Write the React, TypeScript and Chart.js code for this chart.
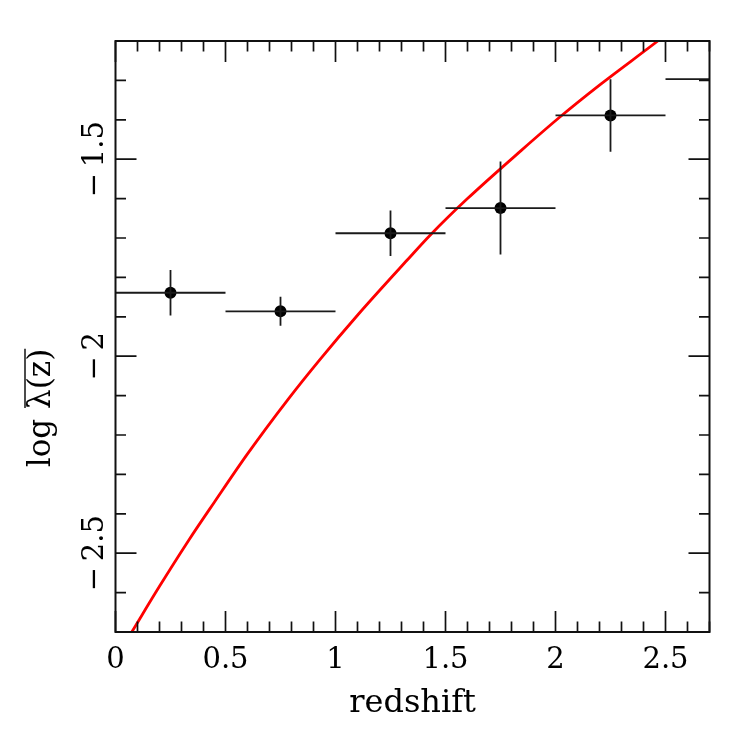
import React, { useEffect, useRef } from "react";
import { Chart, registerables } from "chart.js";

Chart.register(...registerables);

// Binned measurements
const binCenters = [0.25, 0.75, 1.25, 1.75, 2.25, 2.75];
const binHalfWidths = [0.25, 0.25, 0.25, 0.25, 0.25, 0.25];
const logLambda = [-1.839, -1.886, -1.688, -1.624, -1.389, -1.297];
const logLambdaErr = [0.058, 0.037, 0.058, 0.118, 0.092, 0.06];

// Model curve
const curveZ = [0.074, 0.2, 0.333, 0.45, 0.6, 0.781, 0.93, 1.1, 1.326, 1.43, 1.6, 1.846, 2.02, 2.2, 2.465, 2.52];
const curveLogLambda = [-2.7, -2.584, -2.467, -2.37, -2.248, -2.112, -2.008, -1.896, -1.756, -1.693, -1.6, -1.477, -1.393, -1.312, -1.2, -1.176];

// Axis ranges and labelled ticks
const xRange = [0, 2.7];
const yRange = [-2.7, -1.2];
const xMajorLabels = ["0", "0.5", "1", "1.5", "2", "2.5"];
const yMajorLabels = ["−\u20092.5", "−\u20092", "−\u20091.5"];

const FONT = "'DejaVu Serif', serif";

const isMajor = (v: number) => Math.abs(v * 2 - Math.round(v * 2)) < 1e-6;
const fmtX = (v: number) => {
  const s = String(Math.round(v * 2) / 2);
  return xMajorLabels.includes(s) ? s : "";
};
const fmtY = (v: number) => {
  const r = Math.round(v * 2) / 2;
  const s = (r < 0 ? "−\u2009" : "") + String(Math.abs(r));
  return yMajorLabels.includes(s) ? s : "";
};

const framePlugin = {
  id: "frameTicks",
  afterDatasetsDraw(chart: any) {
    const { ctx, chartArea: a, scales } = chart;
    const xs = scales.x;
    const ys = scales.y;
    ctx.save();
    ctx.beginPath();
    ctx.rect(a.left, a.top, a.right - a.left, a.bottom - a.top);
    ctx.clip();
    ctx.strokeStyle = "#1a1a1a";
    ctx.lineWidth = 1.8;
    for (let i = 0; i < binCenters.length; i++) {
      const px = xs.getPixelForValue(binCenters[i]);
      const py = ys.getPixelForValue(logLambda[i]);
      const x0 = xs.getPixelForValue(binCenters[i] - binHalfWidths[i]);
      const x1 = xs.getPixelForValue(binCenters[i] + binHalfWidths[i]);
      const y0 = ys.getPixelForValue(logLambda[i] - logLambdaErr[i]);
      const y1 = ys.getPixelForValue(logLambda[i] + logLambdaErr[i]);
      ctx.beginPath();
      ctx.moveTo(x0, py);
      ctx.lineTo(x1, py);
      ctx.moveTo(px, y0);
      ctx.lineTo(px, y1);
      ctx.stroke();
    }
    ctx.restore();
  },
  afterDraw(chart: any) {
    const { ctx, chartArea: a, scales } = chart;
    const xs = scales.x;
    const ys = scales.y;
    ctx.save();
    ctx.strokeStyle = "#111";
    ctx.lineWidth = 1.7;
    const majorLen = 21;
    const minorLen = 10.5;
    ctx.beginPath();
    xs.ticks.forEach((t: any) => {
      const p = xs.getPixelForValue(t.value);
      const L = isMajor(t.value) ? majorLen : minorLen;
      ctx.moveTo(p, a.bottom);
      ctx.lineTo(p, a.bottom - L);
      ctx.moveTo(p, a.top);
      ctx.lineTo(p, a.top + L);
    });
    ys.ticks.forEach((t: any) => {
      const p = ys.getPixelForValue(t.value);
      const L = isMajor(t.value) ? majorLen : minorLen;
      ctx.moveTo(a.left, p);
      ctx.lineTo(a.left + L, p);
      ctx.moveTo(a.right, p);
      ctx.lineTo(a.right - L, p);
    });
    ctx.stroke();
    ctx.lineWidth = 2;
    ctx.strokeRect(a.left, a.top, a.right - a.left, a.bottom - a.top);

    // y-axis title with overline
    ctx.fillStyle = "#000";
    ctx.font = "31px " + FONT;
    ctx.textBaseline = "alphabetic";
    ctx.textAlign = "left";
    const part1 = "log ";
    const part2 = "λ(z)";
    const w1 = ctx.measureText(part1).width;
    const w2 = ctx.measureText(part2).width;
    const total = w1 + w2;
    const cx = 50;
    const cy = 408;
    ctx.translate(cx, cy);
    ctx.rotate(-Math.PI / 2);
    ctx.fillText(part1, -total / 2, 0);
    ctx.fillText(part2, -total / 2 + w1, 0);
    ctx.beginPath();
    ctx.lineWidth = 1.5;
    ctx.moveTo(-total / 2 + w1 + 1, -25);
    ctx.lineTo(-total / 2 + total, -25);
    ctx.stroke();
    ctx.restore();
  },
};

export default function App() {
  const ref = useRef<HTMLCanvasElement | null>(null);
  useEffect(() => {
    document.body.style.margin = "0";
    const canvas = ref.current!;
    const chart = new Chart(canvas, {
      type: "scatter",
      data: {
        datasets: [
          {
            label: "model",
            data: curveZ.map((z, i) => ({ x: z, y: curveLogLambda[i] })),
            showLine: true,
            borderColor: "#ff0000",
            borderWidth: 2.8,
            pointRadius: 0,
            cubicInterpolationMode: "monotone",
            order: 2,
          } as any,
          {
            label: "data",
            data: binCenters.map((z, i) => ({ x: z, y: logLambda[i] })),
            showLine: false,
            backgroundColor: "#000",
            borderColor: "#000",
            pointRadius: 6,
            pointBorderWidth: 0,
            order: 1,
          } as any,
        ],
      },
      options: {
        animation: false,
        responsive: false,
        devicePixelRatio: 1,
        layout: { padding: { left: 0, top: 41, right: 37.5, bottom: 0 } },
        plugins: { legend: { display: false }, tooltip: { enabled: false } },
        scales: {
          x: {
            type: "linear",
            min: xRange[0],
            max: xRange[1],
            grid: { display: false },
            border: { display: false },
            ticks: {
              stepSize: 0.1,
              autoSkip: false,
              maxRotation: 0,
              padding: 3,
              color: "#000",
              font: { family: FONT, size: 29 },
              callback: (v: any) => (isMajor(Number(v)) ? fmtX(Number(v)) : ""),
            },
            title: {
              display: true,
              text: "redshift",
              color: "#000",
              font: { family: FONT, size: 32 },
              padding: { top: 0, bottom: 24 },
            },
            afterFit: (s: any) => { s.height = 115; },
          },
          y: {
            type: "linear",
            min: yRange[0],
            max: yRange[1],
            grid: { display: false },
            border: { display: false },
            ticks: {
              stepSize: 0.1,
              autoSkip: false,
              minRotation: 90,
              maxRotation: 90,
              crossAlign: "center",
              padding: -26,
              color: "#000",
              font: { family: FONT, size: 29 },
              callback: (v: any) => (isMajor(Number(v)) ? fmtY(Number(v)) : ""),
            },
            afterFit: (s: any) => { s.width = 115.5; },
          },
        },
      },
      plugins: [framePlugin],
    });
    return () => chart.destroy();
  }, []);
  return <canvas ref={ref} width={747} height={747} style={{ display: "block" }} />;
}
